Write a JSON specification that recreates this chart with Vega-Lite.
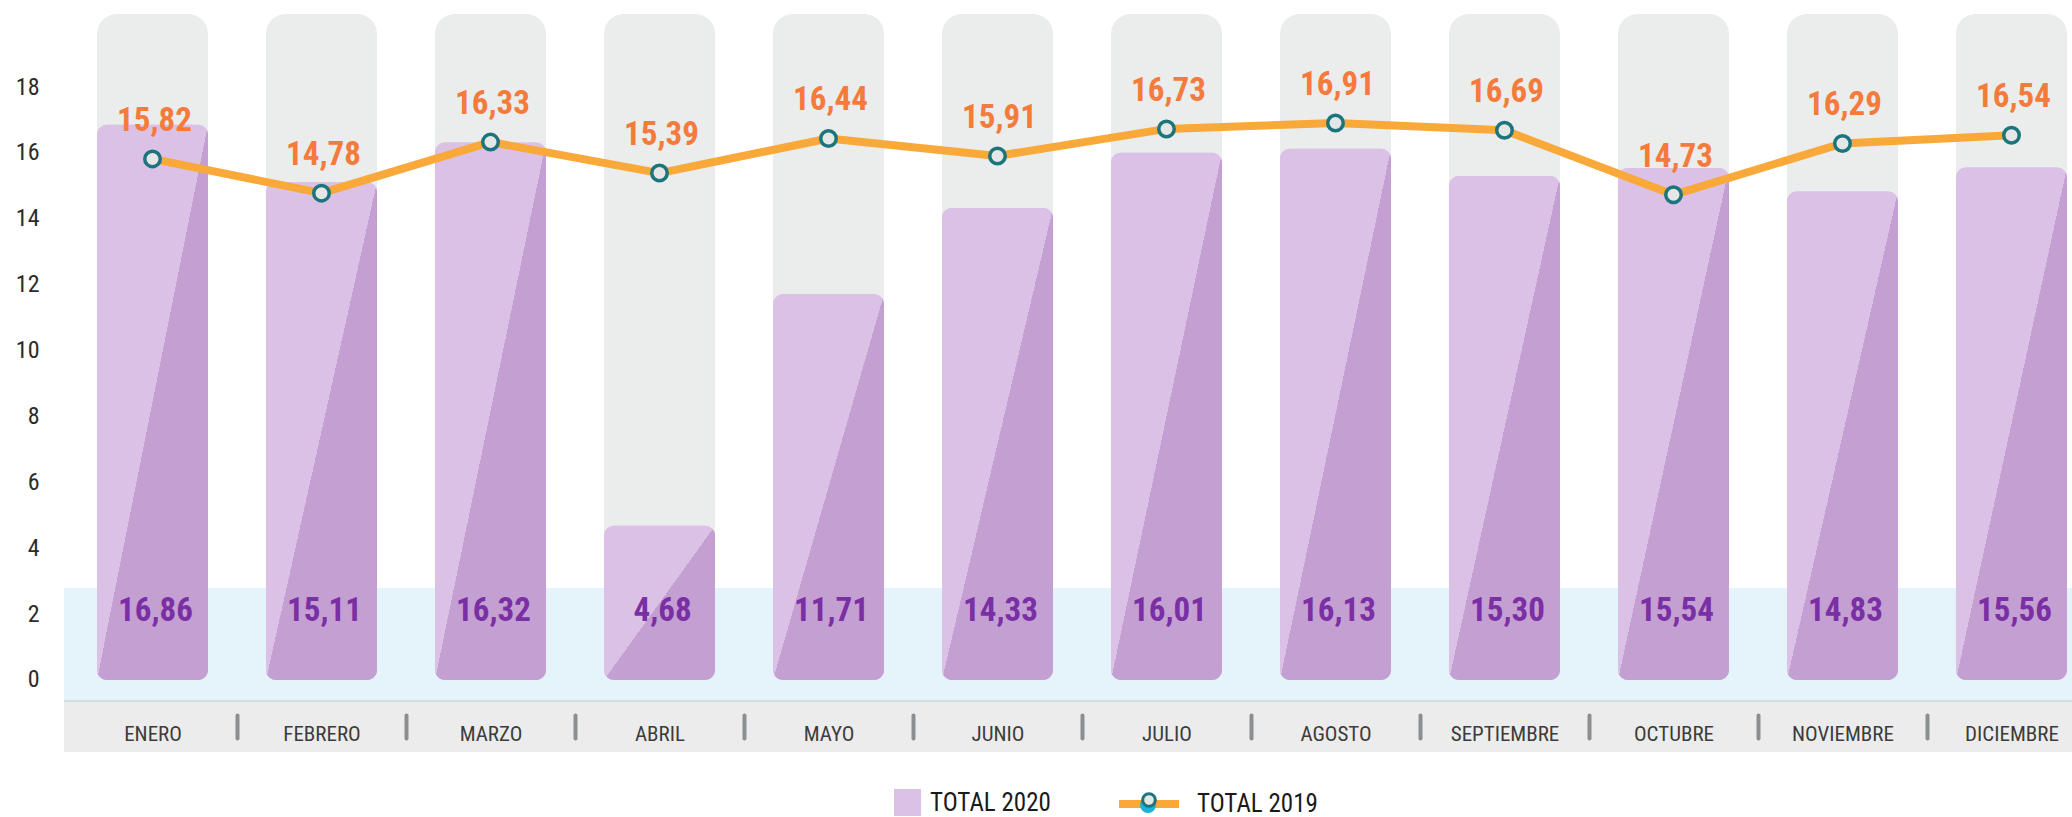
{
  "$schema": "https://vega.github.io/schema/vega-lite/v6.json",
  "autosize": {"type": "none"},
  "width": 2008,
  "height": 752,
  "padding": {"left": 64, "top": 0, "right": 0, "bottom": 65},
  "background": "#ffffff",
  "config": {
    "view": {"stroke": null},
    "locale": {"number": {"decimal": ",", "thousands": ".", "grouping": [3], "currency": ["", " €"]}},
    "font": "Roboto Condensed, Liberation Sans Narrow, DejaVu Sans Condensed, Liberation Sans, sans-serif"
  },
  "data": {"values": [
    {"mes": "ENERO", "v2020": 16.86, "v2019": 15.82},
    {"mes": "FEBRERO", "v2020": 15.11, "v2019": 14.78},
    {"mes": "MARZO", "v2020": 16.32, "v2019": 16.33},
    {"mes": "ABRIL", "v2020": 4.68, "v2019": 15.39},
    {"mes": "MAYO", "v2020": 11.71, "v2019": 16.44},
    {"mes": "JUNIO", "v2020": 14.33, "v2019": 15.91},
    {"mes": "JULIO", "v2020": 16.01, "v2019": 16.73},
    {"mes": "AGOSTO", "v2020": 16.13, "v2019": 16.91},
    {"mes": "SEPTIEMBRE", "v2020": 15.30, "v2019": 16.69},
    {"mes": "OCTUBRE", "v2020": 15.54, "v2019": 14.73},
    {"mes": "NOVIEMBRE", "v2020": 14.83, "v2019": 16.29},
    {"mes": "DICIEMBRE", "v2020": 15.56, "v2019": 16.54}
  ]},
  "layer": [
    {
      "mark": {"type": "bar", "cornerRadius": 20, "color": "#ebedec"},
      "encoding": {
        "x": {"field": "mes", "type": "nominal", "sort": null, "title": null,
          "scale": {"type": "band", "paddingInner": 0.3432, "paddingOuter": 0.1125, "align": 0.868},
          "axis": {"orient": "bottom", "offset": -37, "domain": false, "grid": false, "zindex": 1, "title": null,
            "ticks": true, "tickSize": 23, "tickWidth": 4, "tickColor": "#8c8f91", "tickCap": "round",
            "tickOffset": 84.5, "labelOffset": -84.5, "labelAngle": 0,
            "labelBaseline": "alphabetic", "labelPadding": 2,
            "labelFontSize": 21, "labelColor": "#3c3c3c"}},
        "y": {"datum": 20.22, "type": "quantitative", "title": null,
          "scale": {"domain": [-2.186, 20.644], "nice": false, "zero": false},
          "axis": {"values": [0, 2, 4, 6, 8, 10, 12, 14, 16, 18], "domain": false, "ticks": false, "grid": false, "title": null,
            "labelPadding": 25, "labelFontSize": 24, "labelColor": "#2b2b2b"}},
        "y2": {"datum": 0}
      }
    },
    {
      "mark": {"type": "rect", "color": "#e4f4fa"},
      "encoding": {
        "y": {"datum": 2.793, "type": "quantitative", "title": null, "scale": {"domain": [-2.186, 20.644], "nice": false, "zero": false}},
        "y2": {"datum": -0.6375}
      }
    },
    {
      "mark": {"type": "rect", "color": "#ebeceb"},
      "encoding": {
        "y": {"datum": -0.6375, "type": "quantitative", "title": null, "scale": {"domain": [-2.186, 20.644], "nice": false, "zero": false}},
        "y2": {"datum": -2.186}
      }
    },
    {
      "mark": {"type": "rule", "color": "#d3dcde", "strokeWidth": 1.5},
      "encoding": {
        "y": {"datum": -0.6375, "type": "quantitative", "title": null, "scale": {"domain": [-2.186, 20.644], "nice": false, "zero": false}}
      }
    },
    {
      "mark": {"type": "bar", "cornerRadius": 10},
      "encoding": {
        "x": {"field": "mes", "type": "nominal", "sort": null, "title": null,
          "scale": {"type": "band", "paddingInner": 0.3432, "paddingOuter": 0.1125, "align": 0.868}},
        "y": {"field": "v2020", "type": "quantitative", "title": null, "scale": {"domain": [-2.186, 20.644], "nice": false, "zero": false}},
        "y2": {"datum": 0},
        "color": {"datum": "TOTAL 2020", "type": "nominal",
          "scale": {"range": ["#dbc1e5"]},
          "legend": {"orient": "none", "legendX": 830, "legendY": 789, "title": null, "padding": 0,
            "symbolType": "square", "symbolSize": 729, "symbolStrokeWidth": 0, "labelOffset": 9,
            "labelFontSize": 25, "labelColor": "#1a1a1a"}}
      }
    },
    {
      "mark": {"type": "bar", "cornerRadius": 10,
        "fill": {"gradient": "linear", "x1": 0, "y1": 0, "x2": 1, "y2": 1,
          "stops": [{"offset": 0, "color": "#dbc1e5"}, {"offset": 0.5, "color": "#dbc1e5"}, {"offset": 0.5, "color": "#c49fd2"}, {"offset": 1, "color": "#c49fd2"}]}},
      "encoding": {
        "x": {"field": "mes", "type": "nominal", "sort": null, "title": null,
          "scale": {"type": "band", "paddingInner": 0.3432, "paddingOuter": 0.1125, "align": 0.868}},
        "y": {"field": "v2020", "type": "quantitative", "title": null, "scale": {"domain": [-2.186, 20.644], "nice": false, "zero": false}},
        "y2": {"datum": 0}
      }
    },
    {
      "mark": {"type": "line", "strokeWidth": 8, "strokeCap": "round", "strokeJoin": "round"},
      "encoding": {
        "x": {"field": "mes", "type": "nominal", "sort": null, "title": null,
          "scale": {"type": "band", "paddingInner": 0.3432, "paddingOuter": 0.1125, "align": 0.868}},
        "y": {"field": "v2019", "type": "quantitative", "title": null, "scale": {"domain": [-2.186, 20.644], "nice": false, "zero": false}},
        "stroke": {"datum": "TOTAL 2019", "type": "nominal",
          "scale": {"range": ["#f9a83a"]},
          "legend": {"orient": "none", "legendX": 1051, "legendY": 770, "title": null, "padding": 0, "zindex": 0,
            "symbolType": "stroke", "symbolSize": 3600, "symbolStrokeWidth": 8, "labelOffset": 14,
            "labelFontSize": 25, "labelColor": "#1a1a1a"}}
      }
    },
    {
      "mark": {"type": "point", "filled": true, "size": 100, "color": "#1bb3d6", "strokeWidth": 0, "opacity": 1},
      "encoding": {
        "x": {"field": "mes", "type": "nominal", "sort": null, "title": null,
          "scale": {"type": "band", "paddingInner": 0.3432, "paddingOuter": 0.1125, "align": 0.868}},
        "y": {"field": "v2019", "type": "quantitative", "title": null, "scale": {"domain": [-2.186, 20.644], "nice": false, "zero": false}},
        "strokeDash": {"datum": "sombra", "type": "nominal",
          "scale": {"range": [[1, 0]]},
          "legend": {"orient": "none", "legendX": 1076, "legendY": 797, "title": null, "padding": 0, "zindex": 1,
            "symbolType": "circle", "symbolSize": 256, "symbolStrokeWidth": 0, "labelExpr": "''"}}
      }
    },
    {
      "mark": {"type": "point", "filled": true, "size": 240, "fill": "#e5e7e6", "stroke": "#1c757c", "strokeWidth": 3.5, "opacity": 1},
      "encoding": {
        "x": {"field": "mes", "type": "nominal", "sort": null, "title": null,
          "scale": {"type": "band", "paddingInner": 0.3432, "paddingOuter": 0.1125, "align": 0.868}},
        "y": {"field": "v2019", "type": "quantitative", "title": null, "scale": {"domain": [-2.186, 20.644], "nice": false, "zero": false}},
        "shape": {"datum": "punto", "type": "nominal",
          "scale": {"range": ["circle"]},
          "legend": {"orient": "none", "legendX": 1077, "legendY": 792, "title": null, "padding": 0, "zindex": 2,
            "symbolSize": 160, "symbolStrokeWidth": 3, "labelExpr": "''"}}
      }
    },
    {
      "mark": {"type": "text", "baseline": "alphabetic", "dy": -28, "dx": 2, "fontSize": 33, "fontWeight": "bold", "color": "#f47b3b"},
      "encoding": {
        "x": {"field": "mes", "type": "nominal", "sort": null, "title": null,
          "scale": {"type": "band", "paddingInner": 0.3432, "paddingOuter": 0.1125, "align": 0.868}},
        "y": {"field": "v2019", "type": "quantitative", "title": null, "scale": {"domain": [-2.186, 20.644], "nice": false, "zero": false}},
        "text": {"field": "v2019", "type": "quantitative", "format": ".2f"}
      }
    },
    {
      "mark": {"type": "text", "baseline": "alphabetic", "dx": 3, "fontSize": 33, "fontWeight": "bold", "color": "#7b2fa5"},
      "encoding": {
        "x": {"field": "mes", "type": "nominal", "sort": null, "title": null,
          "scale": {"type": "band", "paddingInner": 0.3432, "paddingOuter": 0.1125, "align": 0.868}},
        "y": {"datum": 1.79, "type": "quantitative", "title": null, "scale": {"domain": [-2.186, 20.644], "nice": false, "zero": false}},
        "text": {"field": "v2020", "type": "quantitative", "format": ".2f"}
      }
    }
  ]
}
